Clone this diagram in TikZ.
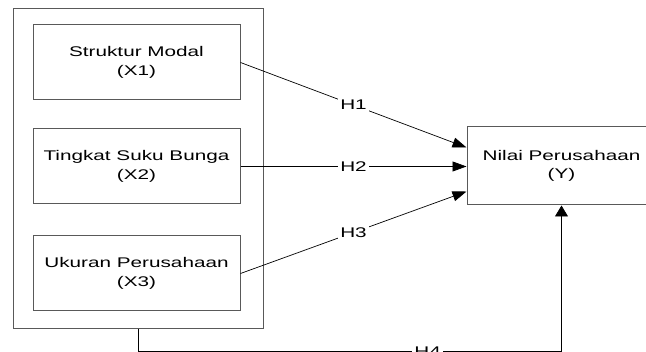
\documentclass[tikz,border=0pt]{standalone}
\usepackage{fontspec}
\setmainfont{Liberation Sans}
\usepackage{graphicx}
\usetikzlibrary{arrows.meta,calc}
\newcommand\sx[1]{\scalebox{1.48}[1]{#1}}
\begin{document}
\begin{tikzpicture}[x=1pt,y=-1pt,
  box/.style={draw=black!65, line width=1pt, rectangle, inner sep=0pt, align=center,
              font=\fontsize{14}{18.5}\selectfont},
  conn/.style={draw=black, line width=0.7pt},
  tipr/.style={-{Triangle[length=14pt,width=10pt]}},
  tipu/.style={-{Triangle[length=11pt,width=13pt]}},
  lbl/.style={fill=white, inner sep=2pt, font=\fontsize{14}{16}\selectfont}]
\useasboundingbox (0,0) rectangle (646,352);
\clip (0,0) rectangle (646,352);
\node[box, minimum width=250pt, minimum height=320pt] (outer) at (138,169) {};
\node[box, minimum width=207pt, minimum height=75pt] (x1) at (136.5,62.5) {\sx{Struktur Modal}\\\sx{(X1)}};
\node[box, minimum width=207pt, minimum height=75pt] (x2) at (136.5,166.5) {\sx{Tingkat Suku Bunga}\\\sx{(X2)}};
\node[box, minimum width=207pt, minimum height=75pt] (x3) at (136.5,273.5) {\sx{Ukuran Perusahaan}\\\sx{(X3)}};
\node[box, minimum width=189pt, minimum height=78pt] (y) at (561.5,166) {\sx{Nilai Perusahaan}\\\sx{(Y)}};
\draw[conn,tipr] (x1.east) -- node[lbl]{\sx{H1}} ($(y.west)+(0,-18.5)$);
\draw[conn,tipr] (x2.east) -- node[lbl]{\sx{H2}} (x2.east -| y.west);
\draw[conn,tipr] (x3.east) -- node[lbl]{\sx{H3}} ($(y.west)+(0,25.5)$);
\draw[conn,tipu] (outer.south) -- ($(outer.south)+(0,22)$) coordinate (c) -| node[lbl,pos=0.342]{\sx{H4}} (y.south);
\end{tikzpicture}
\end{document}
